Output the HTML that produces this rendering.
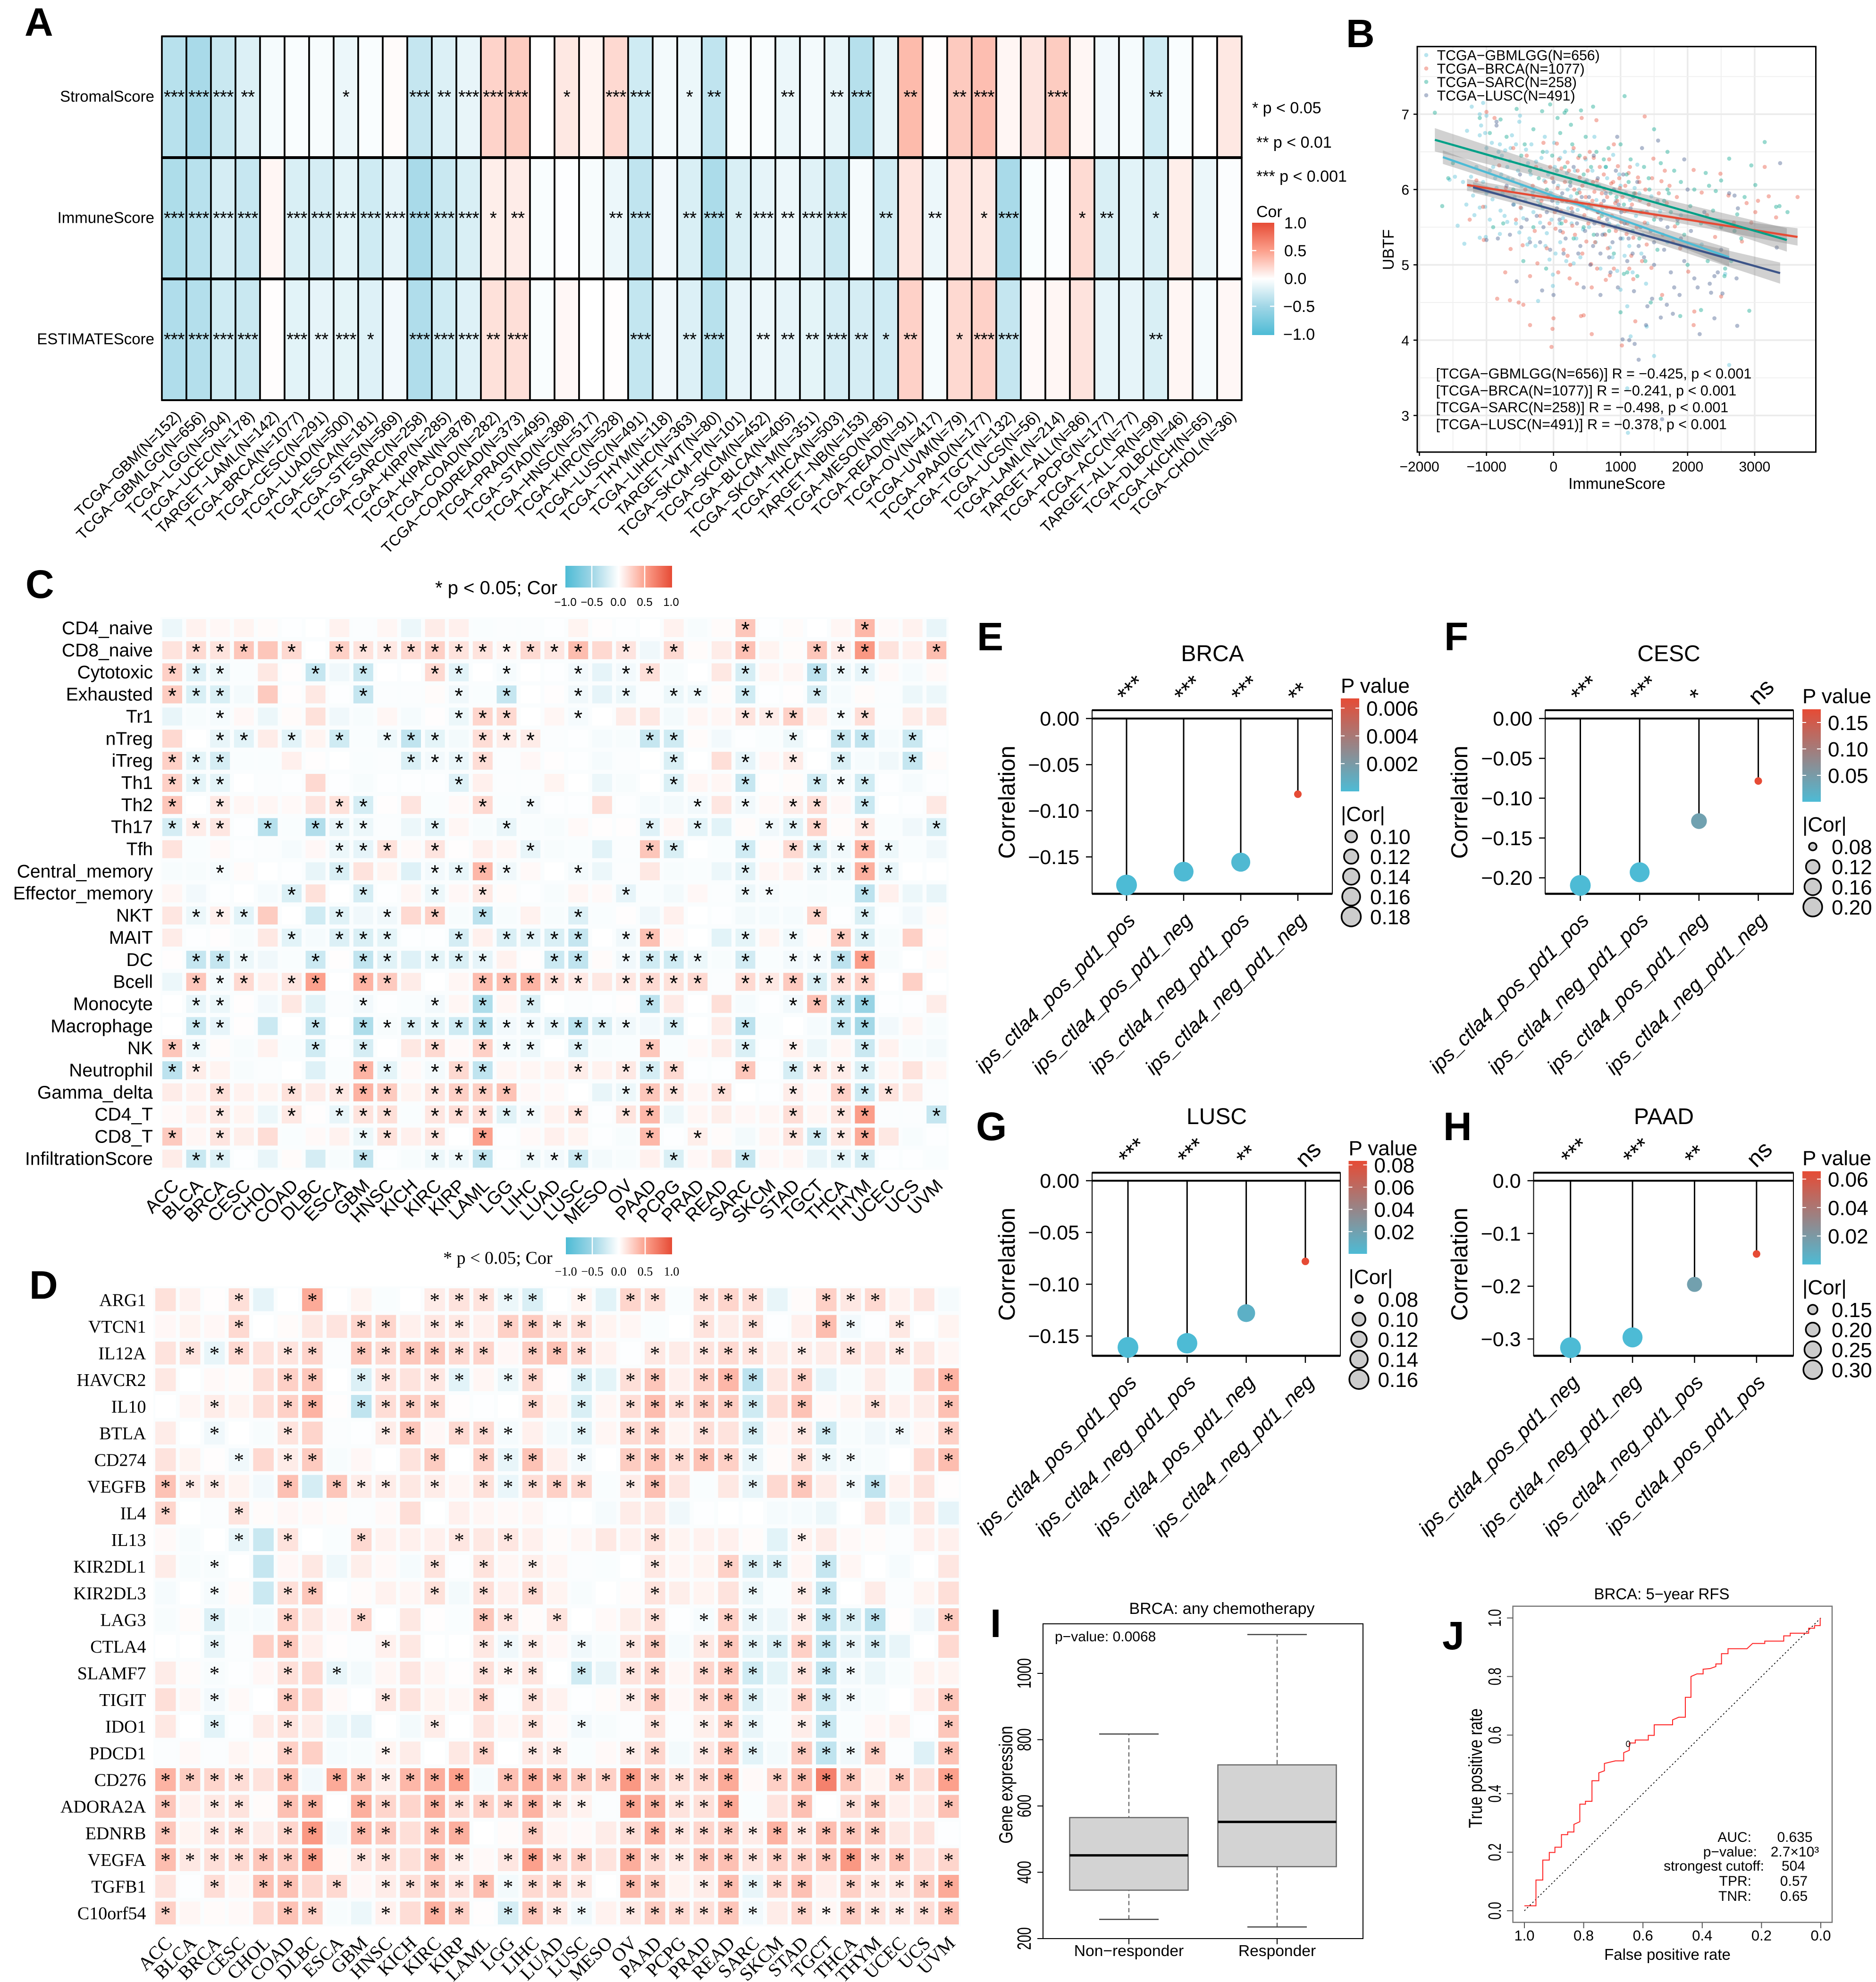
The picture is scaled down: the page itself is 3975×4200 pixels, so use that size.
<!DOCTYPE html>
<html lang="en">
<head>
<meta charset="utf-8">
<title>Multi-panel correlation figure</title>
<style>
html,body{margin:0;padding:0;background:#fff;}
svg{display:block;}
text{font-family:"Liberation Sans",Arial,sans-serif;fill:#000;}
.serif,.serif text{font-family:"Liberation Serif","Times New Roman",serif;}
.letter{font-weight:bold;font-size:84px;}
</style>
</head>
<body>
<svg id="figure" xmlns="http://www.w3.org/2000/svg" width="3975" height="4200" viewBox="0 0 3975 4200">
<defs>
<linearGradient id="corV" x1="0" y1="1" x2="0" y2="0"><stop offset="0" stop-color="#4dbbd5"/><stop offset=".25" stop-color="#9fd6e6"/><stop offset=".5" stop-color="#fff"/><stop offset=".75" stop-color="#fca08c"/><stop offset="1" stop-color="#e64b35"/></linearGradient>
<linearGradient id="corH" x1="0" y1="0" x2="1" y2="0"><stop offset="0" stop-color="#4dbbd5"/><stop offset=".25" stop-color="#9fd6e6"/><stop offset=".5" stop-color="#fff"/><stop offset=".75" stop-color="#fca08c"/><stop offset="1" stop-color="#e64b35"/></linearGradient>
<linearGradient id="pGrad" x1="0" y1="1" x2="0" y2="0"><stop offset="0" stop-color="#4dbbd5"/><stop offset="1" stop-color="#e64b35"/></linearGradient>
</defs>
<rect x="0" y="0" width="3975" height="4200" fill="#fff"/>

<text class="letter" x="52" y="76">A</text>
<text class="letter" x="2852" y="100">B</text>
<text class="letter" x="54" y="1267">C</text>
<text class="letter" x="62" y="2752">D</text>
<text class="letter" x="2070" y="1378">E</text>
<text class="letter" x="3060" y="1378">F</text>
<text class="letter" x="2068" y="2416">G</text>
<text class="letter" x="3058" y="2416">H</text>
<text class="letter" x="2098" y="3469">I</text>
<text class="letter" x="3056" y="3495">J</text>

<g id="panelA">
<text x="2653" y="240" font-size="34">* p &lt; 0.05</text>
<text x="2662" y="313" font-size="34">** p &lt; 0.01</text>
<text x="2662" y="385" font-size="34">*** p &lt; 0.001</text>
<text x="2662" y="460" font-size="34">Cor</text>
<rect x="2653" y="472" width="47" height="238" fill="url(#corV)"/>
</g>

<g id="panelB">
<text transform="translate(2953,529) rotate(-90)" text-anchor="middle" font-size="33">UBTF</text>
<text x="3426" y="1036" text-anchor="middle" font-size="33">ImmuneScore</text>
</g>

<g id="panelC">
<text x="922" y="1259" font-size="40">* p &lt; 0.05; Cor</text>
<rect x="1198" y="1199" width="226" height="46" fill="url(#corH)"/>
</g>

<g id="panelD" class="serif">
<text x="939" y="2678" font-size="38">* p &lt; 0.05; Cor</text>
<rect x="1199" y="2622" width="225" height="36" fill="url(#corH)"/>
</g>

<g id="panelE"></g>
<g id="panelF"></g>
<g id="panelG"></g>
<g id="panelH"></g>

<g id="panelI">
<text x="2589" y="3420" text-anchor="middle" font-size="34">BRCA: any chemotherapy</text>
<text transform="translate(2145,3782) rotate(-90) scale(1,1.2)" text-anchor="middle" font-size="33">Gene expression</text>
</g>

<g id="panelJ">
<text x="3521" y="3389" text-anchor="middle" font-size="33">BRCA: 5−year RFS</text>
<text transform="translate(3140,3747) rotate(-90) scale(1,1.2)" text-anchor="middle" font-size="33">True positive rate</text>
<text x="3533" y="4153" text-anchor="middle" font-size="33">False positive rate</text>
</g>
</svg>

<script>
/* ---------- Panel A data ---------- */
const aRows=["StromalScore","ImmuneScore","ESTIMATEScore"];
const aColumns=["TCGA−GBM(N=152)","TCGA−GBMLGG(N=656)","TCGA−LGG(N=504)","TCGA−UCEC(N=178)","TARGET−LAML(N=142)","TCGA−BRCA(N=1077)","TCGA−CESC(N=291)","TCGA−LUAD(N=500)","TCGA−ESCA(N=181)","TCGA−STES(N=569)","TCGA−SARC(N=258)","TCGA−KIRP(N=285)","TCGA−KIPAN(N=878)","TCGA−COAD(N=282)","TCGA−COADREAD(N=373)","TCGA−PRAD(N=495)","TCGA−STAD(N=388)","TCGA−HNSC(N=517)","TCGA−KIRC(N=528)","TCGA−LUSC(N=491)","TCGA−THYM(N=118)","TCGA−LIHC(N=363)","TARGET−WT(N=80)","TCGA−SKCM−P(N=101)","TCGA−SKCM(N=452)","TCGA−BLCA(N=405)","TCGA−SKCM−M(N=351)","TCGA−THCA(N=503)","TARGET−NB(N=153)","TCGA−MESO(N=85)","TCGA−READ(N=91)","TCGA−OV(N=417)","TCGA−UVM(N=79)","TCGA−PAAD(N=177)","TCGA−TGCT(N=132)","TCGA−UCS(N=56)","TCGA−LAML(N=214)","TARGET−ALL(N=86)","TCGA−PCPG(N=177)","TCGA−ACC(N=77)","TARGET−ALL−R(N=99)","TCGA−DLBC(N=46)","TCGA−KICH(N=65)","TCGA−CHOL(N=36)"];
const aStromal=[-.37,-.45,-.28,-.18,-.05,-.03,-.04,-.1,-.03,.02,-.3,-.18,-.12,.23,.27,0,.12,.06,.2,-.25,-.06,-.1,-.33,-.03,-.03,-.1,-.06,-.12,-.38,-.12,.36,.01,.28,.34,.05,.14,.27,.05,-.07,-.05,-.25,-.03,0,.12];
const aImmune=[-.42,-.37,-.22,-.29,.05,-.2,-.22,-.15,-.25,-.13,-.45,-.28,-.2,.09,.1,-.03,-.01,-.04,-.1,-.33,-.07,-.2,-.43,-.2,-.13,-.1,-.16,-.28,-.05,-.25,.14,-.1,.14,.12,-.45,-.03,-.02,.19,-.2,-.15,-.2,.09,-.1,-.02];
const aEstimate=[-.41,-.39,-.25,-.28,.01,-.15,-.13,-.14,-.17,-.07,-.41,-.25,-.17,.16,.17,-.03,.04,0,.01,-.31,-.08,-.18,-.37,-.13,-.1,-.13,-.14,-.22,-.22,-.25,.24,-.05,.2,.24,-.3,.03,.05,.15,-.13,-.13,-.2,.05,-.05,.04];
const aStromalStars=[3,3,3,2,0,0,0,1,0,0,3,2,3,3,3,0,1,0,3,3,0,1,2,0,0,2,0,2,3,0,2,0,2,3,0,0,3,0,0,0,2,0,0,0];
const aImmuneStars=[3,3,3,3,0,3,3,3,3,3,3,3,3,1,2,0,0,0,2,3,0,2,3,1,3,2,3,3,0,2,0,2,0,1,3,0,0,1,2,0,1,0,0,0];
const aEstimateStars=[3,3,3,3,0,3,2,3,1,0,3,3,3,2,3,0,0,0,0,3,0,2,3,0,2,2,2,3,2,1,2,0,1,3,3,0,0,0,0,0,2,0,0,0];
const corLegendTicks=[1,.5,0,-.5,-1];

/* ---------- Panel B data ---------- */
const bXTicks=[-2000,-1000,0,1000,2000,3000];
const bYTicks=[3,4,5,6,7];
const bSeriesNames=["TCGA−GBMLGG(N=656)","TCGA−BRCA(N=1077)","TCGA−SARC(N=258)","TCGA−LUSC(N=491)"];
const bStats=["[TCGA−GBMLGG(N=656)] R = −0.425, p < 0.001","[TCGA−BRCA(N=1077)] R = −0.241, p < 0.001","[TCGA−SARC(N=258)] R = −0.498, p < 0.001","[TCGA−LUSC(N=491)] R = −0.378, p < 0.001"];
const gbmlggPoints=[[-1220,7.1],[-1050,7.15],[-1100,7.0],[-1000,6.98],[-500,6.98],[-510,6.9],[-1080,6.85],[-1290,6.78],[-1100,6.72],[-1020,6.75],[-920,6.62],[-800,6.6],[-720,6.52],[-650,6.38],[-780,6.2],[-690,6.3],[-1230,6.17],[-1300,5.8],[-1200,5.92],[-1100,5.76],[-1020,5.77],[-1180,5.66],[-1430,5.52],[-1330,5.28],[-1100,5.36],[-1010,5.37],[-800,5.41],[-450,5.62],[-300,5.7],[-200,5.56],[-100,5.42],[100,5.3],[400,5.1],[700,4.95],[950,4.92],[1000,4.67],[1100,4.45],[1150,4.05],[1500,3.79],[1100,3.36],[1110,2.77],[2620,3.67],[1390,4.18],[-230,4.52],[-10,4.72],[-10,4.87],[300,5.02],[100,6.42],[-100,6.5],[200,6.22],[500,6.12],[800,6.15],[1000,6.05],[1250,6.33],[1100,5.72],[1400,5.55],[1700,5.3],[-1550,6.13],[-1470,6.17],[-1350,6.1],[-1250,6.05],[-1150,6.3],[-1050,6.1],[-950,6.25],[-850,6.02],[-770,6.45],[-610,6.13],[-560,6.6],[-410,6.53],[-340,6.2],[-260,6.37],[-140,6.12],[-40,5.96],[60,5.82],[140,5.62],[260,5.91],[360,5.73],[440,5.47],[560,5.6],[640,5.86],[760,5.41],[840,5.23],[960,5.52],[1060,5.12],[1140,5.86],[1310,5.15],[1590,5.71],[-910,5.87],[-790,5.72],[-690,5.57],[-590,5.8],[-510,5.43],[-390,5.27],[-310,5.96],[-190,6.27],[10,6.62],[290,6.51],[610,6.7],[890,6.46],[1210,6.02],[1460,5.91],[1900,5.66],[2210,5.27],[2560,4.88],[-60,5.07],[-870,6.42],[-620,6.72],[-1000,6.55],[-900,6.3],[-820,6.5],[-760,5.95],[-640,6.55],[-580,5.9],[-530,6.25],[-470,6.05],[-420,5.85],[-380,6.35],[-330,6.6],[-280,6.0],[-230,5.85],[-180,6.42],[-130,6.7],[-80,6.2],[-30,5.6],[20,6.3],[70,6.05],[110,5.9],[170,6.5],[220,5.75],[270,5.55],[320,6.25],[380,6.0],[430,5.8],[480,6.4],[530,5.5],[580,6.25],[630,5.3],[680,6.05],[730,5.75],[780,6.3],[830,5.55],[880,5.1],[930,5.85],[980,6.2],[1030,5.35],[1080,5.95],[1130,5.25],[1180,4.9],[1230,5.65],[1280,5.95],[1330,5.4],[1380,4.75],[-1000,5.95],[-950,5.6],[-870,6.15],[-730,5.65],[-680,6.15],[-560,5.55],[-480,5.75],[-360,5.35],[-270,5.25],[-160,5.75],[-120,5.25],[30,5.15],[90,5.55],[190,5.05],[210,6.0],[340,5.35]];
const brcaPoints=[[-1000,7.03],[-880,6.95],[1360,6.97],[420,6.95],[640,6.92],[-1250,5.6],[-1050,5.77],[-1040,5.33],[-720,4.9],[-840,4.55],[-650,4.53],[-520,4.5],[-450,4.47],[-350,4.2],[-30,3.91],[-15,4.15],[0,4.29],[410,4.32],[450,4.33],[570,4.08],[1020,3.93],[1220,4.25],[1620,4.6],[2100,4.38],[2090,4.2],[2500,4.58],[2880,5.82],[3640,5.9],[3150,6.3],[3320,5.63],[3050,5.85],[3010,5.7],[-350,4.85],[-100,5.22],[-200,5.65],[-310,6.05],[-400,6.45],[-150,6.62],[-50,6.3],[60,6.02],[110,5.71],[140,5.43],[210,5.12],[240,4.82],[300,6.55],[360,6.25],[390,5.96],[460,5.66],[490,5.31],[560,5.01],[600,6.42],[650,6.12],[710,5.81],[740,5.52],[810,5.22],[840,4.86],[900,6.6],[960,6.31],[990,6.02],[1060,5.71],[1090,5.41],[1160,5.12],[1190,4.81],[1260,6.16],[1290,5.86],[1360,5.56],[1390,5.27],[1460,4.96],[1490,6.41],[1610,6.11],[1690,5.82],[1810,5.51],[1890,5.22],[2010,4.91],[2090,6.26],[2210,5.96],[2290,5.66],[2410,5.37],[2490,6.21],[2610,5.92],[2690,5.56],[2810,5.31],[2950,5.56],[3210,5.91],[-600,6.55],[-710,6.02],[-490,5.76],[-460,5.26],[-240,5.02],[-810,6.32],[-640,5.21],[-1150,6.12],[50,6.61],[210,6.36],[390,6.16],[610,5.97],[790,5.76],[1010,5.57],[1190,5.36],[340,5.86],[560,5.76],[760,6.01],[120,6.28],[470,6.42],[860,6.08],[680,5.62],[280,5.52],[920,5.82],[1120,6.22],[30,5.48],[-80,5.9],[-20,6.15],[20,5.7],[80,6.4],[130,5.85],[170,6.1],[180,5.58],[230,6.25],[270,5.75],[310,6.0],[320,5.4],[370,6.42],[410,5.8],[430,6.05],[480,5.9],[510,6.25],[520,5.55],[540,6.5],[580,5.85],[590,6.1],[620,5.3],[660,5.7],[690,6.3],[720,5.95],[750,6.2],[770,5.4],[800,5.9],[830,6.4],[870,5.65],[890,6.1],[930,5.45],[950,5.85],[980,6.15],[1030,5.9],[1070,6.05],[1100,5.55],[1140,6.3],[1170,5.8],[1220,5.95],[1240,5.5],[1280,6.1],[1330,5.7],[1370,6.0],[1420,5.8],[1470,6.15],[1520,5.65],[1570,5.95],[1630,5.4],[1660,6.25],[1730,6.05],[1780,5.3],[1840,5.9],[-280,5.45],[-180,5.85],[-120,6.1],[-420,6.0],[-560,5.6],[-260,6.3],[-60,5.55],[150,5.2],[250,5.0],[430,5.15],[650,4.95],[900,4.95],[1130,4.95],[1320,5.05],[70,4.9],[350,4.75],[570,4.7],[780,4.8]];
const sarcPoints=[[1060,7.24],[-1770,7.02],[-790,6.93],[-550,7.07],[-50,7.13],[590,7.1],[410,7.05],[190,7.05],[165,7.02],[-170,7.04],[60,6.95],[260,6.86],[1500,6.8],[1700,6.5],[3150,6.63],[2620,6.41],[2950,6.32],[3010,6.06],[3490,5.7],[3320,5.77],[3370,5.78],[2740,5.67],[2850,5.9],[2420,5.98],[2500,6.12],[2270,6.22],[2320,6.05],[1800,6.25],[1700,6.0],[1430,6.0],[1200,5.95],[-1660,5.78],[-1570,6.15],[-1500,6.35],[2920,4.39],[1890,4.32],[2560,4.95],[1250,4.85],[1100,4.9],[-1100,6.95],[-950,6.75],[-700,6.7],[-480,6.45],[-300,6.8],[-160,6.5],[100,6.75],[280,6.6],[480,6.7],[640,6.5],[820,6.55],[1000,6.6],[1150,6.4],[1350,6.3],[1600,6.35],[1900,6.1],[2100,6.0],[2700,5.45],[2800,5.35],[2500,5.5],[2200,5.55],[1950,5.4],[1750,5.7],[1500,5.6],[1300,5.7],[1050,5.8],[850,5.95],[650,6.05],[450,6.2],[250,6.1],[50,6.25],[-100,6.0],[-350,6.25],[-600,6.0],[-900,5.5],[-450,5.05],[-110,4.95],[300,5.35],[600,5.4],[900,5.15],[1050,4.88],[2000,5.0],[2300,5.05],[2650,5.05],[2550,4.85],[2200,4.4],[1600,4.55],[1000,4.37],[1450,4.5],[-750,5.55],[-300,5.5],[1720,5.95],[2040,5.78],[2380,5.72],[780,6.3],[-220,6.15],[120,5.55],[1180,5.45],[1550,5.2],[350,5.95],[530,5.8],[720,5.65],[940,5.9],[1120,6.1],[1280,5.35],[1420,6.15],[1650,5.85],[1850,5.55],[-430,6.6],[-20,6.45],[170,6.3],[390,6.45],[560,6.3],[750,6.4],[1090,6.2],[-200,5.8],[450,5.5],[830,5.45],[1370,5.05]];
const luscPoints=[[-850,6.85],[-850,6.9],[950,6.7],[1320,6.55],[1560,6.65],[1950,6.4],[3380,6.35],[2000,6.0],[2700,5.92],[2750,5.75],[3330,5.23],[2400,4.85],[2450,4.9],[2730,4.82],[2330,4.75],[2520,4.62],[2350,4.63],[2100,4.82],[2180,4.08],[2400,4.29],[2740,4.19],[1780,4.35],[1690,4.47],[1030,4.01],[1130,4.0],[1210,3.95],[1270,3.74],[1380,4.2],[960,4.7],[1470,4.55],[1620,2.95],[1500,5.0],[1300,5.5],[-1000,5.33],[-830,5.35],[-550,4.78],[-170,4.66],[0,4.6],[700,4.6],[450,4.7],[-700,6.05],[-600,5.8],[-500,6.2],[-400,5.6],[-300,5.9],[-200,5.3],[-100,5.7],[0,6.1],[100,5.45],[200,5.85],[300,6.3],[400,5.25],[500,5.75],[600,6.45],[700,5.15],[800,5.6],[900,6.0],[1000,5.35],[1100,5.05],[1150,5.75],[1250,6.1],[1350,5.1],[1450,5.45],[1550,5.85],[1650,5.2],[1750,4.9],[1850,5.6],[1950,5.05],[2050,5.45],[2150,4.7],[2250,5.7],[2500,5.2],[2620,5.95],[1800,4.7],[1600,4.3],[1400,4.45],[1200,4.65],[850,4.9],[650,5.4],[550,5.0],[350,5.55],[250,6.05],[150,5.15],[50,5.75],[-50,5.2],[1880,4.6],[930,6.25],[750,5.85],[420,5.9],[610,5.55],[1010,5.7],[-250,5.65],[-650,5.4],[130,5.95],[880,5.3],[-150,5.5],[-20,5.85],[90,5.6],[180,5.35],[280,5.7],[370,5.15],[470,5.45],[530,5.9],[590,5.25],[670,5.7],[730,5.4],[780,5.95],[830,5.1],[920,5.5],[970,5.8],[1060,5.55],[1120,5.35],[1190,5.9],[1270,5.25],[1390,5.7],[1500,5.3],[1600,5.6],[1700,5.5],[1900,5.35],[-480,5.5],[-350,5.3],[660,6.15],[470,6.1],[1040,6.2],[1180,5.15]];
const gbmlggLineX=[-1650,2620], gbmlggLineY=[6.43,5.10], gbmlggBandX=[-1650,500,2620], gbmlggBandHalf=[.09,.03,.12];
const brcaLineX=[-1290,3640], brcaLineY=[6.06,5.37], brcaBandX=[-1290,700,3640], brcaBandHalf=[.08,.03,.115];
const sarcLineX=[-1770,3480], sarcLineY=[6.66,5.33], sarcBandX=[-1770,900,3480], sarcBandHalf=[.155,.05,.155];
const luscLineX=[-1200,3380], luscLineY=[6.03,4.89], luscBandX=[-1200,900,3380], luscBandHalf=[.07,.035,.14];

/* ---------- Panels C and D data ---------- */
const tumorTypes=["ACC","BLCA","BRCA","CESC","CHOL","COAD","DLBC","ESCA","GBM","HNSC","KICH","KIRC","KIRP","LAML","LGG","LIHC","LUAD","LUSC","MESO","OV","PAAD","PCPG","PRAD","READ","SARC","SKCM","STAD","TGCT","THCA","THYM","UCEC","UCS","UVM"];
const cRows=["CD4_naive","CD8_naive","Cytotoxic","Exhausted","Tr1","nTreg","iTreg","Th1","Th2","Th17","Tfh","Central_memory","Effector_memory","NKT","MAIT","DC","Bcell","Monocyte","Macrophage","NK","Neutrophil","Gamma_delta","CD4_T","CD8_T","InfiltrationScore"];
const cCor=[
[-.1,.07,.04,.06,.02,-.01,0,.07,-.02,.05,-.1,.1,.08,-.03,-.02,-.02,-.01,.06,.01,-.01,0,.07,-.04,.02,.3,-.01,.02,0,.05,.38,.03,.07,-.12],
[.15,.2,.15,.3,.3,.2,0,.25,.15,.12,.2,.25,.15,.15,.06,.2,.13,.35,.2,.14,-.08,.2,.02,.1,.33,.06,.02,.3,.1,.55,.15,.08,.35],
[.25,-.18,-.1,-.03,.12,.01,-.3,-.08,-.28,0,0,.2,-.15,0,-.05,0,-.01,-.07,-.13,-.07,.17,-.04,0,.12,-.22,.05,.05,-.35,-.1,-.13,.03,-.05,.03],
[.27,-.2,-.2,-.06,.28,.01,.12,-.01,-.3,-.02,-.02,.02,-.08,-.03,-.3,0,.01,-.08,-.13,-.1,-.02,-.1,-.09,.02,-.25,-.01,.01,-.22,-.05,.02,-.02,-.1,-.1],
[-.12,-.04,-.05,.04,-.1,.02,.16,-.08,-.04,.05,-.05,.01,-.1,.22,.2,0,.05,-.05,0,.1,.12,-.06,.05,.05,.15,.1,.25,.07,-.05,.18,-.02,.1,.12],
[.2,0,-.12,-.15,.1,-.15,.06,-.25,-.03,-.1,-.33,-.14,-.06,.18,.1,.1,-.02,-.01,-.05,-.04,-.3,-.25,.02,-.07,-.01,-.03,-.1,0,-.3,-.33,-.05,-.28,-.01],
[.25,-.14,-.22,-.03,-.03,.08,.01,0,-.03,-.02,-.2,-.07,-.11,.18,-.02,.04,.01,-.01,-.05,-.02,0,-.2,0,.17,-.13,.04,.1,0,-.2,-.05,-.08,-.3,.02],
[.25,-.14,-.14,0,-.02,-.01,.2,-.01,-.04,-.01,-.01,-.01,-.17,.08,-.02,-.02,.06,0,-.1,-.04,0,-.2,.05,.05,-.3,.01,.02,-.25,-.06,-.25,-.01,-.05,-.01],
[.3,0,.12,.05,.05,.03,.14,.16,-.22,.01,.14,-.03,.03,.2,-.03,-.07,-.01,-.01,.17,-.01,-.05,-.06,-.07,.13,-.08,.03,.1,.18,.04,-.28,0,-.01,.12],
[-.22,.1,.13,-.01,-.38,-.03,-.4,-.12,-.1,-.02,-.1,-.15,.05,-.04,-.12,-.03,-.04,.03,.01,.01,-.17,.05,-.15,-.15,.02,-.08,-.15,.22,.02,.15,-.03,-.08,-.2],
[.15,-.03,.03,-.01,-.02,-.05,.04,-.1,-.13,.16,.03,.14,.01,.08,.05,-.12,-.04,-.03,-.15,-.02,.3,-.2,0,-.03,-.25,.02,.2,-.22,-.08,.4,-.1,-.03,-.08],
[-.04,-.04,-.05,.02,0,-.01,-.12,-.2,.15,.06,-.17,-.07,-.12,.38,-.08,.03,0,-.06,-.1,-.02,.12,-.04,-.03,-.1,-.16,.05,.07,-.12,-.1,.42,-.12,0,0],
[.05,-.07,-.01,0,-.05,-.2,.16,0,-.22,-.01,.05,-.1,.04,.12,.02,-.01,-.04,.05,.03,-.13,-.03,-.06,.04,-.02,-.1,-.05,-.03,-.04,-.03,-.35,.08,-.1,-.12],
[.13,-.1,.08,-.15,.27,0,-.25,-.16,-.08,-.08,.2,.25,-.04,-.35,-.04,.07,-.04,-.18,-.03,.01,-.08,.08,0,-.01,-.06,-.05,-.05,.22,-.01,-.2,-.01,-.07,.02],
[.1,-.01,.01,-.04,.12,-.15,-.05,-.18,-.2,-.14,-.01,-.01,-.22,.08,-.2,-.15,-.2,-.3,0,-.08,.33,.03,0,-.15,-.14,.06,-.09,.02,.28,-.2,-.04,.25,.01],
[.01,-.3,-.3,-.1,-.08,-.03,-.27,.01,-.33,-.16,-.17,-.14,-.2,-.13,.07,.01,-.27,-.33,.02,-.08,-.25,-.25,-.1,-.04,-.24,-.03,-.07,-.07,-.35,.52,-.04,0,.02],
[-.1,.3,-.06,.2,.08,.13,.5,0,.4,.28,.1,0,.05,.35,.35,.4,.18,.12,.12,.13,.2,.16,.2,-.02,.2,.12,.28,-.2,.18,.25,0,.25,0],
[0,-.12,-.1,.01,-.07,.12,-.15,-.02,-.07,-.01,-.03,-.07,.05,-.42,.05,-.2,0,-.02,-.01,.01,-.35,.11,0,.17,-.05,-.01,-.07,.33,-.33,-.55,-.01,-.01,.1],
[0,-.27,-.13,.01,-.27,0,-.3,0,-.42,-.04,-.2,-.14,-.25,-.4,-.07,-.09,-.15,-.35,-.2,-.08,-.07,-.22,0,.1,-.35,-.03,0,-.05,-.33,-.48,-.07,.05,-.04],
[.3,-.1,.02,-.04,.07,-.03,-.25,-.01,-.22,0,.12,.2,.03,.25,-.06,-.1,0,-.17,-.04,-.03,.3,-.03,.03,.1,-.2,-.01,.07,-.1,.05,-.28,.07,-.04,-.06],
[-.35,.1,.06,-.04,-.02,0,-.17,-.03,.4,-.14,.03,-.06,.2,-.33,.05,.05,.06,.1,.07,.12,-.22,.2,-.01,-.01,.3,-.01,-.22,.12,.1,-.2,.05,.15,.05],
[.1,.07,.17,.07,.06,.16,.1,.12,.4,.28,.06,.15,.25,.26,.32,.04,.03,0,-.12,-.1,.3,.15,.05,.17,0,-.01,.1,.03,.25,-.27,.15,.1,-.02],
[.03,.07,.12,.06,-.1,.12,.01,-.12,.15,.17,-.03,.13,.18,.18,-.16,-.07,.07,.15,-.01,.15,.38,-.1,.05,.09,.04,.05,.18,.05,.15,.52,-.02,-.02,-.3],
[.28,.05,.14,.09,.18,-.03,.03,.07,-.1,.16,.08,.14,0,.5,-.01,.03,.08,.06,-.01,-.04,.38,-.01,.09,.02,-.06,.05,.15,-.25,.12,.45,.12,-.04,-.01],
[.1,-.28,-.18,-.01,-.12,.02,-.22,-.04,-.33,-.01,-.04,-.1,-.09,-.33,-.01,-.1,-.07,-.27,-.06,-.04,.08,-.2,.04,.12,-.3,.04,.05,-.12,-.15,-.22,-.01,-.01,-.03]];
const cStars=[
[24,29],
[1,2,3,5,7,8,9,10,11,12,13,14,15,16,17,19,21,24,27,28,29,32],
[0,1,2,6,8,11,12,14,17,19,20,24,27,28,29],
[0,1,2,8,12,14,17,19,21,22,24,27],
[2,12,13,14,17,24,25,26,28,29],
[2,3,5,7,9,10,11,13,14,15,20,21,26,28,29,31],
[0,1,2,10,11,12,13,21,24,26,28,31],
[0,1,2,12,21,24,27,28,29],
[0,2,7,8,13,15,22,24,26,27,29],
[0,1,2,4,6,7,8,11,14,20,22,25,26,27,29,32],
[7,8,9,11,15,20,21,24,26,27,28,29,30],
[2,7,11,12,13,14,17,24,27,28,29,30],
[5,8,11,13,19,24,25,29],
[1,2,3,7,9,11,13,17,27,29],
[5,7,8,9,12,14,15,16,17,19,20,24,26,28,29],
[1,2,3,6,8,9,11,12,13,16,17,19,20,21,22,24,26,27,28,29],
[1,2,3,5,6,8,9,13,14,15,16,17,19,20,21,22,24,25,26,27,28,29],
[1,2,8,11,13,15,20,26,27,28,29],
[1,2,6,8,9,10,11,12,13,14,15,16,17,18,19,21,24,28,29],
[0,1,6,8,11,13,14,15,17,20,24,26,29],
[0,1,8,9,11,12,13,17,19,20,21,24,26,27,28,29],
[2,5,7,8,9,11,12,13,14,19,20,21,23,26,28,29,30],
[2,5,7,8,9,11,12,13,14,15,17,19,20,26,28,29,32],
[0,2,8,9,11,13,20,22,26,27,28,29],
[1,2,8,11,12,13,15,16,17,21,24,28,29]];
const dRows=["ARG1","VTCN1","IL12A","HAVCR2","IL10","BTLA","CD274","VEGFB","IL4","IL13","KIR2DL1","KIR2DL3","LAG3","CTLA4","SLAMF7","TIGIT","IDO1","PDCD1","CD276","ADORA2A","EDNRB","VEGFA","TGFB1","C10orf54"];
const dCor=[
[.16,.07,.01,.17,-.13,0,.45,0,.06,-.03,0,.1,.15,.15,-.1,-.2,0,.06,-.15,.22,.17,-.03,.17,.22,.18,-.12,.02,.25,.12,.2,.07,.13,-.05],
[.04,.06,.04,.2,0,.02,.12,.14,.22,.22,.08,.13,.12,.08,.25,.28,.12,.17,.06,.05,-.03,0,.15,.1,.17,-.01,.08,.35,-.07,-.01,.12,0,.06],
[.15,.15,-.12,.2,.15,.15,.23,-.02,.3,.2,.3,.3,.2,.23,.04,.27,.32,.2,.07,-.01,.12,.1,.15,.2,.15,.09,.1,.1,.15,.13,.13,.12,.05],
[.12,0,.03,.02,.17,.25,.3,0,-.18,.15,.15,.13,-.15,.05,-.1,.22,.01,-.2,-.14,.17,.3,.08,.25,.38,-.35,.12,.25,-.13,-.04,.1,-.04,.2,.4],
[0,.05,.1,.06,.17,.25,.4,.01,-.33,.18,.27,.22,.01,-.01,0,.22,.06,-.2,.05,.18,.35,.18,.27,.27,-.25,.18,.32,.03,.06,.17,.08,.1,.33],
[.1,0,-.08,0,-.04,.15,.22,-.02,-.01,.1,.3,.04,.2,.2,-.05,.08,-.06,-.15,.05,.2,.25,.06,.18,.15,-.22,.05,.12,-.25,-.04,-.08,-.08,.05,.25],
[.15,.06,.01,-.08,.2,.1,.28,-.04,.04,0,.15,.27,0,.25,-.12,.32,.08,-.07,0,.27,.32,.2,.32,.25,-.12,.02,.17,-.1,-.06,-.04,0,.2,.35],
[.32,.1,.1,.06,-.07,.33,-.22,.3,.1,.1,.12,.1,.05,.16,-.11,.18,.25,.2,-.03,.1,.33,.13,-.03,.12,-.12,.2,.3,.1,-.06,-.33,.07,.15,.01],
[.22,0,-.02,.15,.02,.04,.03,.02,-.02,.03,.18,0,.08,.05,.03,.05,-.01,0,-.05,.1,.12,-.08,-.01,0,0,-.05,-.05,-.1,0,.12,-.09,.12,-.13],
[.03,-.04,0,-.12,-.28,.15,0,-.03,.2,.07,.08,.08,.13,.12,.13,.08,.02,.05,.12,.08,.17,.06,.07,.08,.02,-.15,.07,.1,.03,.02,-.02,.08,.08],
[.1,-.04,-.04,0,-.3,.04,.12,-.09,.09,.03,-.05,.15,-.01,.15,.05,.09,.05,-.02,-.03,0,.12,.05,.06,.25,-.2,-.2,.05,-.3,.05,0,-.05,0,.13],
[-.05,0,-.05,.02,-.27,.17,.3,0,.02,.07,.05,.16,-.06,.18,.08,.2,.06,-.04,0,.02,.15,.09,.06,.15,-.1,-.03,.1,-.3,0,.1,-.02,.06,.17],
[-.04,.02,-.18,-.04,-.05,.25,.12,.04,.22,0,.12,.01,-.03,.3,.14,.02,.15,0,.03,.09,.17,-.01,-.05,.25,-.12,-.1,.1,-.33,-.2,-.35,.01,-.08,.28],
[0,0,-.12,-.02,.25,.3,.08,.01,-.02,.08,.12,0,0,.12,-.08,.1,.04,-.08,-.04,.12,.27,-.05,.12,.3,-.14,-.2,.25,-.3,-.12,-.22,-.12,0,.2],
[.1,.02,-.04,-.01,.04,.17,.2,-.12,-.06,.05,.13,.05,.01,.17,.07,.15,0,-.25,-.12,.15,.22,.05,.22,.3,-.25,-.14,.15,-.33,-.07,-.1,-.04,.06,.06],
[.17,.05,-.07,.03,0,.28,.2,.03,0,.13,.15,.06,.05,.25,-.01,.16,.07,-.01,.02,.1,.28,.04,.2,.35,-.18,-.06,.25,-.27,-.07,-.04,0,.08,.3],
[.12,0,-.15,-.01,.1,.15,.1,-.1,-.13,0,-.06,.1,0,.13,.05,.16,.03,-.07,-.04,-.02,.16,-.02,.09,.25,-.12,-.03,.1,-.3,-.03,.04,.07,-.01,.3],
[-.02,.03,-.02,.05,.02,.25,.25,-.05,-.04,.06,.1,0,.12,.25,0,.12,.1,-.03,.03,.1,.22,-.06,.13,.33,-.15,-.06,.28,-.33,-.08,.27,-.02,-.17,.32],
[.4,.27,.22,.18,.15,.35,-.07,.45,.32,.1,.38,.43,.5,-.05,.33,.42,.33,.28,.25,.55,.27,.17,.22,.45,.03,.25,.35,.68,.3,.06,.3,.17,.5],
[.3,.07,.12,.15,.02,.33,.4,0,.42,.22,.22,.4,.18,.25,.23,.4,.12,.07,-.02,.48,.4,.15,.17,.47,-.03,.14,.33,0,.17,.27,.08,.1,.33],
[.3,.06,.15,.18,.1,.22,.55,-.07,.38,.28,.17,.35,.42,0,.02,.28,.05,.03,.1,.18,.4,.15,.22,.27,.1,.4,.15,.35,.3,.27,.12,.15,-.01],
[.35,.12,.17,.2,.3,.28,.52,.02,.15,.17,.17,.35,.1,.03,.13,.5,.2,.25,.15,.43,.2,.12,.3,.33,.15,.25,.25,.3,.55,.2,.33,.15,.22],
[.15,-.01,.18,.05,.33,.33,.2,.2,.04,.1,.17,.28,.14,.35,-.06,.2,.2,.12,0,.37,.27,.06,.1,.35,-.12,.2,.33,.08,.25,.12,.12,.27,.45],
[.25,.05,.02,.03,.2,.32,.25,-.04,-.1,.08,.18,.42,.25,.01,-.22,.3,.12,-.08,.07,.12,.27,.2,.17,.3,-.07,.1,.22,.05,.27,.15,.12,.18,.33]];
const dStars=[
[3,6,11,12,13,14,15,17,19,20,22,23,24,27,28,29],
[3,8,9,11,12,14,15,16,17,22,24,27,28,30],
[1,2,3,5,6,8,9,10,11,12,13,15,16,17,20,22,23,24,26,28,30],
[5,6,8,9,11,12,14,15,17,19,20,22,23,24,26,32],
[2,5,6,8,9,10,11,15,17,19,20,21,22,23,24,26,29,32],
[2,5,9,10,12,13,14,17,19,20,22,24,26,27,30,32],
[3,5,6,11,13,14,15,17,19,20,21,22,23,24,26,27,28,32],
[0,1,2,5,7,8,9,11,13,14,15,16,17,19,20,24,26,28,29],
[0,3],
[3,5,8,12,14,20,26],
[2,11,13,15,20,23,24,25,27],
[2,5,6,11,13,15,20,24,26,27],
[2,5,8,13,14,16,20,22,23,24,26,27,28,29,32],
[2,5,9,13,14,15,17,19,20,22,23,24,25,26,27,28,29],
[2,5,7,13,14,15,17,19,20,22,23,24,26,27,28],
[2,5,9,13,15,19,20,22,23,24,26,27,28,32],
[2,5,11,15,17,20,22,23,24,26,27,32],
[5,9,13,15,16,19,20,22,23,24,26,27,28,29,32],
[0,1,2,3,5,7,8,9,10,11,12,14,15,16,17,18,19,20,21,22,23,25,26,27,28,30,32],
[0,2,3,5,6,8,9,11,12,13,14,15,16,17,19,20,21,22,23,26,28,29,32],
[0,2,3,5,6,8,9,11,12,15,19,20,21,22,23,24,25,26,27,28,29],
[0,1,2,3,4,5,6,8,9,11,12,14,15,16,17,19,20,21,22,23,24,25,26,27,28,29,30,32],
[2,4,5,7,9,10,11,12,13,14,15,16,17,19,20,22,23,24,25,26,28,29,30,31,32],
[0,5,6,9,11,12,14,15,16,17,19,20,21,22,23,24,26,27,28,29,30,31,32]];

/* ---------- Panels E to H data ---------- */
const ePosPos="ips_ctla4_pos_pd1_pos", ePosNeg="ips_ctla4_pos_pd1_neg", eNegPos="ips_ctla4_neg_pd1_pos", eNegNeg="ips_ctla4_neg_pd1_neg";
const eCategories=[ePosPos,ePosNeg,eNegPos,eNegNeg];
const eCorrelation=[-.1805,-.166,-.1557,-.082];
const ePValues=[.00001,.00004,.00012,.0067];
const eSignificance=["***","***","***","**"];
const eYTicks=[0,-.05,-.1,-.15];
const ePTicks=[.006,.004,.002];
const eCorTicks=[.10,.12,.14,.16,.18];
const fCategories=[ePosPos,eNegPos,ePosNeg,eNegNeg];
const fCorrelation=[-.2095,-.193,-.1288,-.0784];
const fPValues=[.0001,.0005,.04,.175];
const fSignificance=["***","***","*","ns"];
const fYTicks=[0,-.05,-.1,-.15,-.2];
const fPTicks=[.15,.10,.05];
const fCorTicks=[.08,.12,.16,.20];
const gCategories=[ePosPos,eNegPos,ePosNeg,eNegNeg];
const gCorrelation=[-.161,-.157,-.1279,-.0779];
const gPValues=[.0001,.0002,.008,.0836];
const gSignificance=["***","***","**","ns"];
const gYTicks=[0,-.05,-.1,-.15];
const gPTicks=[.08,.06,.04,.02];
const gCorTicks=[.08,.10,.12,.14,.16];
const hCategories=[ePosNeg,eNegNeg,eNegPos,ePosPos];
const hCorrelation=[-.3165,-.297,-.1965,-.1388];
const hPValues=[.0001,.0002,.016,.0655];
const hSignificance=["***","***","**","ns"];
const hYTicks=[0,-.1,-.2,-.3];
const hPTicks=[.06,.04,.02];
const hCorTicks=[.15,.20,.25,.30];

/* ---------- Panel I data ---------- */
const iCategories=["Non−responder","Responder"];
const iLowerWhisker=[258,235];
const iQ1=[346,417];
const iMedian=[451,552];
const iQ3=[565,724];
const iUpperWhisker=[817,1117];
const iYTicks=[200,400,600,800,1000];

/* ---------- Panel J data ---------- */
const rocFpr=[1,.961,.961,.938,.938,.916,.916,.897,.897,.875,.875,.854,.854,.833,.833,.813,.813,.794,.794,.772,.772,.749,.749,.73,.73,.693,.665,.665,.646,.646,.626,.626,.582,.582,.562,.562,.5,.5,.479,.457,.457,.438,.438,.418,.397,.397,.374,.354,.354,.335,.335,.313,.313,.249,.23,.189,.189,.125,.125,.103,.103,.041,.041,.021,.021,.002,.002];
const rocTpr=[.017,.017,.105,.105,.173,.173,.199,.199,.217,.217,.26,.26,.269,.269,.295,.304,.364,.364,.374,.374,.444,.444,.471,.478,.503,.512,.512,.54,.548,.573,.573,.583,.583,.599,.599,.635,.635,.652,.661,.661,.729,.729,.8,.809,.809,.825,.827,.834,.843,.843,.878,.878,.895,.895,.913,.913,.921,.921,.939,.939,.948,.948,.965,.965,.974,.974,1];
const jTicks=[0,.2,.4,.6,.8,1];
const jCutoffFpr=[.65];
const jCutoffTpr=[.57];

/* ---------- Helpers ---------- */
const NS="http://www.w3.org/2000/svg";
function add(parent,tag,attrs,name,text){
  const el=document.createElementNS(NS,tag);
  for(const k in attrs){el.setAttribute(k,attrs[k]);}
  
  
  if(text!==undefined){el.textContent=text;}
  parent.appendChild(el);
  return el;
}
function hex(a,b,t){return Math.round(a+(b-a)*t);}
function corColor(v){
  let s0,s1,t,a=Math.abs(v);
  if(v>=0){s0=a<=.5?[255,255,255]:[252,160,140];s1=a<=.5?[252,160,140]:[230,75,53];}
  else{s0=a<=.5?[255,255,255]:[159,214,230];s1=a<=.5?[159,214,230]:[77,187,213];}
  t=a<=.5?a/.5:(a-.5)/.5;
  return "rgb("+hex(s0[0],s1[0],t)+","+hex(s0[1],s1[1],t)+","+hex(s0[2],s1[2],t)+")";
}
function pColor(t){
  return "rgb("+hex(77,230,t)+","+hex(187,75,t)+","+hex(213,53,t)+")";
}
function minusFmt(v,d){return (v<0?"−":"")+Math.abs(v).toFixed(d);}

/* ---------- Panel A ---------- */
(function(){
  const g=document.getElementById("panelA");
  const X0=343,Y0=77,CW=52,RH=257;
  const vals=[aStromal,aImmune,aEstimate], stars=[aStromalStars,aImmuneStars,aEstimateStars];
  vals.forEach(function(row,r){
    row.forEach(function(v,c){
      add(g,"rect",{x:X0+c*CW,y:Y0+r*RH,width:CW,height:RH,fill:corColor(v),stroke:"#000","stroke-width":3.6},"heat-cell");
    });
  });
  for(let r=0;r<=3;r++){
    add(g,"line",{x1:X0,x2:X0+44*CW,y1:Y0+r*RH,y2:Y0+r*RH,stroke:"#000","stroke-width":(r===0||r===3)?4:6},"row-separator");
  }
  stars.forEach(function(row,r){
    row.forEach(function(n,c){
      if(n>0){add(g,"text",{x:X0+c*CW+CW/2,y:Y0+r*RH+RH/2+13,"text-anchor":"middle","font-size":39,"letter-spacing":"-.5"},"significance-stars","*".repeat(n));}
    });
  });
  aRows.forEach(function(lbl,r){
    add(g,"text",{x:327,y:Y0+r*RH+RH/2+10,"text-anchor":"end","font-size":33},"row-label",lbl);
  });
  aColumns.forEach(function(lbl,c){
    const x=X0+c*CW+CW/2+16,y=884;
    add(g,"text",{transform:"translate("+x+","+y+") rotate(-45)","text-anchor":"end","font-size":32.5},"column-label",lbl);
  });
  corLegendTicks.forEach(function(v){
    const y=590-v*118;
    add(g,"text",{x:v<0?2719:2721,y:y+12,"font-size":34},"colorbar-tick-label",minusFmt(v,1));
    if(Math.abs(v)<1){
      add(g,"line",{x1:2653,x2:2662,y1:y,y2:y,stroke:"#fff","stroke-width":2.5},"colorbar-tick");
      add(g,"line",{x1:2691,x2:2700,y1:y,y2:y,stroke:"#fff","stroke-width":2.5},"colorbar-tick");
    }
  });
})();

/* ---------- Panel B ---------- */
(function(){
  const g=document.getElementById("panelB");
  const L=3003,R=3847.5,T=98.7,B=958;
  const bx=function(v){return 3291.7+v*.14206;};
  const by=function(v){return 242+(7-v)*159.6;};
  bXTicks.forEach(function(v){
    add(g,"line",{x1:bx(v),x2:bx(v),y1:T,y2:B,stroke:"#ebebeb","stroke-width":3.5},"x-gridline-major");
    if(v<3000&&bx(v+500)<R){add(g,"line",{x1:bx(v+500),x2:bx(v+500),y1:T,y2:B,stroke:"#f0f0f0","stroke-width":2},"x-gridline-minor");}
  });
  bYTicks.forEach(function(v){
    add(g,"line",{x1:L,x2:R,y1:by(v),y2:by(v),stroke:"#ebebeb","stroke-width":3.5},"y-gridline-major");
    add(g,"line",{x1:L,x2:R,y1:by(v+.5),y2:by(v+.5),stroke:"#f0f0f0","stroke-width":2},"y-gridline-minor");
  });
  const series=[
    {pts:gbmlggPoints,c:"#4dbbd5",lx:gbmlggLineX,ly:gbmlggLineY,bx:gbmlggBandX,bh:gbmlggBandHalf,n:"gbmlgg"},
    {pts:brcaPoints,c:"#e64b35",lx:brcaLineX,ly:brcaLineY,bx:brcaBandX,bh:brcaBandHalf,n:"brca"},
    {pts:sarcPoints,c:"#00a087",lx:sarcLineX,ly:sarcLineY,bx:sarcBandX,bh:sarcBandHalf,n:"sarc"},
    {pts:luscPoints,c:"#3c5488",lx:luscLineX,ly:luscLineY,bx:luscBandX,bh:luscBandHalf,n:"lusc"}
  ];
  series.forEach(function(s){
    s.pts.forEach(function(p){
      add(g,"circle",{cx:bx(p[0]),cy:by(p[1]),r:4.4,fill:s.c,"fill-opacity":.4},"scatter-point-"+s.n);
    });
  });
  series.forEach(function(s){
    const lineAt=function(x){return s.ly[0]+(s.ly[1]-s.ly[0])*(x-s.lx[0])/(s.lx[1]-s.lx[0]);};
    const up=s.bx.map(function(x,i){return bx(x)+","+by(lineAt(x)+s.bh[i]);});
    const dn=s.bx.map(function(x,i){return bx(x)+","+by(lineAt(x)-s.bh[i]);}).reverse();
    add(g,"polygon",{points:up.concat(dn).join(" "),fill:"#7f7f7f","fill-opacity":.36},"confidence-band-"+s.n);
  });
  series.forEach(function(s){
    add(g,"line",{x1:bx(s.lx[0]),y1:by(s.ly[0]),x2:bx(s.lx[1]),y2:by(s.ly[1]),stroke:s.c,"stroke-width":4.5},"fit-line-"+s.n);
  });
  add(g,"rect",{x:L,y:T,width:R-L,height:B-T,fill:"none",stroke:"#000","stroke-width":3},"plot-frame");
  bXTicks.forEach(function(v){
    add(g,"line",{x1:bx(v),x2:bx(v),y1:B,y2:B+8,stroke:"#000","stroke-width":2.5},"x-tick");
    add(g,"text",{x:bx(v),y:999,"text-anchor":"middle","font-size":30},"x-tick-label",minusFmt(v,0));
  });
  bYTicks.forEach(function(v){
    add(g,"line",{x1:L-8,x2:L,y1:by(v),y2:by(v),stroke:"#000","stroke-width":2.5},"y-tick");
    add(g,"text",{x:2986,y:by(v)+11,"text-anchor":"end","font-size":30},"y-tick-label",String(v));
  });
  bSeriesNames.forEach(function(n,i){
    const y=116.7+i*28.4;
    add(g,"circle",{cx:3022,cy:y,r:4.4,fill:series[i].c,"fill-opacity":.4},"legend-marker");
    add(g,"text",{x:3044.6,y:y+11,"font-size":30.3},"legend-entry",n);
  });
  bStats.forEach(function(n,i){
    add(g,"text",{x:3042.6,y:802+i*35.8,"font-size":30.5},"correlation-stat",n);
  });
})();

/* ---------- Panels C and D ---------- */
function heatmap(cfg){
  const g=document.getElementById(cfg.id);
  add(g,"rect",{x:cfg.x0-4,y:cfg.y0-4,width:cfg.px*33,height:cfg.py*cfg.rows.length,fill:"#fafdfe"},"heatmap-background");
  cfg.cor.forEach(function(row,r){
    row.forEach(function(v,c){
      add(g,"rect",{x:cfg.x0+c*cfg.px,y:cfg.y0+r*cfg.py,width:cfg.w,height:cfg.h,fill:v===0?"#fff":corColor(v)},"heat-cell");
    });
  });
  cfg.stars.forEach(function(list,r){
    list.forEach(function(c){
      add(g,"text",{x:cfg.x0+c*cfg.px+cfg.w/2,y:cfg.y0+r*cfg.py+cfg.h/2+cfg.starDy,"text-anchor":"middle","font-size":cfg.starSize},"significance-star","*");
    });
  });
  cfg.rows.forEach(function(lbl,r){
    add(g,"text",{x:cfg.labelX,y:cfg.y0+r*cfg.py+cfg.h/2+13,"text-anchor":"end","font-size":cfg.font},"row-label",lbl);
  });
  tumorTypes.forEach(function(lbl,c){
    const x=cfg.x0+c*cfg.px+cfg.w/2+16,y=cfg.colY;
    add(g,"text",{transform:"translate("+x+","+y+") rotate(-45)","text-anchor":"end","font-size":cfg.colFont},"column-label",lbl);
  });
  corLegendTicks.slice().reverse().forEach(function(v){
    const x=cfg.legX+v*112;
    add(g,"text",{x:x,y:cfg.legY,"text-anchor":"middle","font-size":cfg.legFont},"colorbar-tick-label",minusFmt(v,1));
    if(Math.abs(v)===.5){
      add(g,"line",{x1:x,x2:x,y1:cfg.barT,y2:cfg.barT+cfg.barH,stroke:"#fff","stroke-width":2.5},"colorbar-tick");
    }
  });
}
heatmap({id:"panelC",rows:cRows,cor:cCor,stars:cStars,x0:344,y0:1312,px:50.6,py:46.85,w:42,h:38,starDy:19,starSize:46,labelX:324,font:39,colY:2515,colFont:39,legX:1310,legY:1284,legFont:24,barT:1199,barH:46});
heatmap({id:"panelD",rows:dRows,cor:dCor,stars:dStars,x0:329,y0:2730,px:51.85,py:56.5,w:43.5,h:48.5,starDy:15,starSize:43,labelX:309.5,font:38,colY:4120,colFont:40,legX:1311,legY:2703,legFont:26,barT:2622,barH:36});

/* ---------- Panels E to H ---------- */
function lollipop(id,title,cats,cor,pv,sig,yTicks,pTicks,corTicks,L){
  const g=document.getElementById(id);
  const y=function(v){return L.zero-v*L.scale;};
  const cmin=Math.min.apply(null,cor.map(Math.abs)),cmax=Math.max.apply(null,cor.map(Math.abs));
  const rad=function(c){const t=Math.max(0,(c-cmin)/(cmax-cmin));return 8+14*Math.sqrt(t);};
  add(g,"text",{x:L.titleX,y:L.titleY,"text-anchor":"middle","font-size":48},"chart-title",title);
  add(g,"text",{transform:"translate("+L.yTitleX+","+L.yTitleY+") rotate(-90)","text-anchor":"middle","font-size":49},"y-axis-title","Correlation");
  add(g,"rect",{x:L.left,y:L.top,width:L.right-L.left,height:L.bottom-L.top,fill:"#fff",stroke:"#000","stroke-width":2},"plot-frame");
  add(g,"line",{x1:L.left,x2:L.right,y1:L.top,y2:L.top,stroke:"#000","stroke-width":4},"plot-top-edge");
  add(g,"line",{x1:L.left,x2:L.right,y1:L.zero,y2:L.zero,stroke:"#000","stroke-width":4},"zero-line");
  add(g,"line",{x1:L.left,x2:L.right,y1:L.bottom,y2:L.bottom,stroke:"#000","stroke-width":4.5},"x-axis-line");
  yTicks.forEach(function(v){
    add(g,"line",{x1:L.left-13,x2:L.left,y1:y(v),y2:y(v),stroke:"#000","stroke-width":2.5},"y-tick");
    add(g,"text",{x:L.left-27,y:y(v)+15,"text-anchor":"end","font-size":43},"y-tick-label",minusFmt(v,L.digits));
  });
  const dx={"***":2,"**":-6,"*":-12,"ns":7}, dy={"***":-52,"**":-44,"*":-37,"ns":-38};
  cats.forEach(function(c,i){
    const x=L.xs0+i*L.xStep;
    add(g,"line",{x1:x,x2:x,y1:L.bottom,y2:L.bottom+15,stroke:"#000","stroke-width":2.5},"x-tick");
    add(g,"line",{x1:x,x2:x,y1:L.zero,y2:y(cor[i]),stroke:"#000","stroke-width":3},"lollipop-stem");
    add(g,"circle",{cx:x,cy:y(cor[i]),r:rad(Math.abs(cor[i])),fill:pColor(pv[i]/L.pMax)},"lollipop-point");
    add(g,"text",{transform:"translate("+(x+21)+","+(L.bottom+59)+") rotate(-45)","text-anchor":"end","font-size":43.5,"font-style":"italic"},"x-tick-label",c);
    const sx=x+dx[sig[i]],sy=L.top+dy[sig[i]];
    add(g,"text",{transform:"translate("+sx+","+sy+") rotate(-45)","text-anchor":"middle",y:sig[i]==="ns"?15:27,"font-size":50},"significance-label",sig[i]);
  });
  add(g,"text",{x:L.legX,y:L.legTitleY,"font-size":44},"p-value-legend-title","P value");
  add(g,"rect",{x:L.legX,y:L.barT,width:39,height:L.barB-L.barT,fill:"url(#pGrad)"},"p-value-colorbar");
  pTicks.forEach(function(p){
    const yy=L.barB-p/L.pMax*(L.barB-L.barT);
    add(g,"line",{x1:L.legX,x2:L.legX+8,y1:yy,y2:yy,stroke:"#fff","stroke-width":2},"colorbar-tick");
    add(g,"line",{x1:L.legX+31,x2:L.legX+39,y1:yy,y2:yy,stroke:"#fff","stroke-width":2},"colorbar-tick");
    add(g,"text",{x:L.legX+54,y:yy+16,"font-size":44},"colorbar-tick-label",L.pFmt(p));
  });
  add(g,"text",{x:L.legX,y:L.corTitleY,"font-size":44},"cor-size-legend-title","|Cor|");
  corTicks.forEach(function(c,i){
    const yy=L.corY0+i*L.corStep;
    const rr=c<=cmin+.003?8:Math.max(9,rad(c)-1.5);
    add(g,"circle",{cx:L.legX+22,cy:yy,r:rr,fill:"#ccc",stroke:"#000","stroke-width":3.5},"size-legend-marker");
    add(g,"text",{x:L.legX+62,y:yy+16,"font-size":44},"size-legend-label",c.toFixed(2));
  });
}
lollipop("panelE","BRCA",eCategories,eCorrelation,ePValues,eSignificance,eYTicks,ePTicks,eCorTicks,{left:2314,right:2823,top:1505,bottom:1894,zero:1522.6,scale:1955,xs0:2387,xStep:121,digits:2,titleX:2569,titleY:1401,yTitleX:2150,yTitleY:1700,legX:2841,legTitleY:1468,barT:1480,barB:1677,pMax:.0067,pFmt:function(p){return p.toFixed(3);},corTitleY:1740,corY0:1772.6,corStep:42.5});
lollipop("panelF","CESC",fCategories,fCorrelation,fPValues,fSignificance,fYTicks,fPTicks,fCorTicks,{left:3274,right:3800,top:1505,bottom:1894,zero:1522.6,scale:1688,xs0:3348.5,xStep:125.7,digits:2,titleX:3536,titleY:1401,yTitleX:3109,yTitleY:1700,legX:3819,legTitleY:1490,barT:1503,barB:1699,pMax:.175,pFmt:function(p){return p.toFixed(2);},corTitleY:1762,corY0:1794,corStep:42.7});
lollipop("panelG","LUSC",gCategories,gCorrelation,gPValues,gSignificance,gYTicks,gPTicks,gCorTicks,{left:2314,right:2840,top:2485,bottom:2873,zero:2502,scale:2194,xs0:2390,xStep:125.3,digits:2,titleX:2578,titleY:2382,yTitleX:2150,yTitleY:2679,legX:2857.5,legTitleY:2448,barT:2460,barB:2657,pMax:.0836,pFmt:function(p){return p.toFixed(2);},corTitleY:2721,corY0:2753,corStep:42.5});
lollipop("panelH","PAAD",hCategories,hCorrelation,hPValues,hSignificance,hYTicks,hPTicks,hCorTicks,{left:3249.5,right:3800,top:2485,bottom:2873,zero:2502,scale:1118,xs0:3327.7,xStep:131.4,digits:1,titleX:3525.5,titleY:2382,yTitleX:3109,yTitleY:2679,legX:3819,legTitleY:2469,barT:2482,barB:2679.5,pMax:.0655,pFmt:function(p){return p.toFixed(2);},corTitleY:2743,corY0:2775,corStep:42.5});

/* ---------- Panel I ---------- */
(function(){
  const g=document.getElementById("panelI");
  const y=function(v){return 4108-(v-200)*.7025;};
  add(g,"rect",{x:2210,y:3441,width:678,height:667,fill:"none",stroke:"#000","stroke-width":2},"plot-frame");
  add(g,"text",{x:2235,y:3478,"font-size":30},"p-value-note","p−value: 0.0068");
  iYTicks.forEach(function(v){
    add(g,"line",{x1:2198,x2:2210,y1:y(v),y2:y(v),stroke:"#000","stroke-width":2},"y-tick");
    add(g,"text",{transform:"translate(2184,"+y(v)+") rotate(-90) scale(1,1.4)","text-anchor":"middle","font-size":29},"y-tick-label",String(v));
  });
  iCategories.forEach(function(c,i){
    const cx=2392+i*314,left=cx-125.5;
    add(g,"line",{x1:cx,x2:cx,y1:y(iLowerWhisker[i]),y2:y(iUpperWhisker[i]),stroke:"#555","stroke-width":2,"stroke-dasharray":"9 6"},"box-whisker");
    add(g,"line",{x1:cx-63,x2:cx+63,y1:y(iUpperWhisker[i]),y2:y(iUpperWhisker[i]),stroke:"#444","stroke-width":2.5},"whisker-cap-upper");
    add(g,"line",{x1:cx-63,x2:cx+63,y1:y(iLowerWhisker[i]),y2:y(iLowerWhisker[i]),stroke:"#444","stroke-width":2.5},"whisker-cap-lower");
    add(g,"rect",{x:left,y:y(iQ3[i]),width:251,height:y(iQ1[i])-y(iQ3[i]),fill:"#d3d3d3",stroke:"#666","stroke-width":2.5},"box-"+i);
    add(g,"line",{x1:left,x2:left+251,y1:y(iMedian[i]),y2:y(iMedian[i]),stroke:"#000","stroke-width":5},"box-median");
    add(g,"line",{x1:cx,x2:cx,y1:4108,y2:4120,stroke:"#000","stroke-width":2},"x-tick");
    add(g,"text",{x:cx,y:4145,"text-anchor":"middle","font-size":33.6},"x-tick-label",c);
  });
})();

/* ---------- Panel J ---------- */
(function(){
  const g=document.getElementById("panelJ");
  const x=function(f){return 3858-628*f;};
  const y=function(t){return 4049-620.4*t;};
  add(g,"rect",{x:3205.6,y:3403.7,width:676.4,height:669.9,fill:"none",stroke:"#777","stroke-width":2.5},"plot-frame");
  jTicks.forEach(function(v){
    add(g,"line",{x1:x(v),x2:x(v),y1:4073.6,y2:4086,stroke:"#555","stroke-width":2},"x-tick");
    add(g,"text",{x:x(v),y:4112,"text-anchor":"middle","font-size":31},"x-tick-label",v.toFixed(1));
    add(g,"line",{x1:3193,x2:3205.6,y1:y(v),y2:y(v),stroke:"#555","stroke-width":2},"y-tick");
    add(g,"text",{transform:"translate(3180,"+y(v)+") rotate(-90) scale(1,1.4)","text-anchor":"middle","font-size":27},"y-tick-label",v.toFixed(1));
  });
  add(g,"line",{x1:x(1),y1:y(0),x2:x(0),y2:y(1),stroke:"#000","stroke-width":1.8,"stroke-dasharray":"3 5"},"reference-diagonal");
  add(g,"polyline",{points:rocFpr.map(function(f,i){return x(f)+","+y(rocTpr[i]);}).join(" "),fill:"none",stroke:"#f22","stroke-width":2},"roc-curve");
  add(g,"ellipse",{cx:x(jCutoffFpr[0]),cy:y(jCutoffTpr[0]),rx:4,ry:6,fill:"none",stroke:"#000","stroke-width":1.5},"cutoff-marker");
  add(g,"text",{x:3711,y:3903,"text-anchor":"end","font-size":30},"auc-label","AUC:");
  add(g,"text",{x:3803,y:3903,"text-anchor":"middle","font-size":30},"auc-value","0.635");
  add(g,"text",{x:3723,y:3934,"text-anchor":"end","font-size":30},"p-value-label","p−value:");
  add(g,"text",{x:3803,y:3934,"text-anchor":"middle","font-size":30},"p-value-value","2.7×10³");
  add(g,"text",{x:3738,y:3964,"text-anchor":"end","font-size":30},"cutoff-label","strongest cutoff:");
  add(g,"text",{x:3800,y:3964,"text-anchor":"middle","font-size":30},"cutoff-value","504");
  add(g,"text",{x:3711,y:3996,"text-anchor":"end","font-size":30},"tpr-label","TPR:");
  add(g,"text",{x:3801,y:3996,"text-anchor":"middle","font-size":30},"tpr-value","0.57");
  add(g,"text",{x:3711,y:4028,"text-anchor":"end","font-size":30},"tnr-label","TNR:");
  add(g,"text",{x:3801,y:4028,"text-anchor":"middle","font-size":30},"tnr-value","0.65");
})();
</script>
</body>
</html>
